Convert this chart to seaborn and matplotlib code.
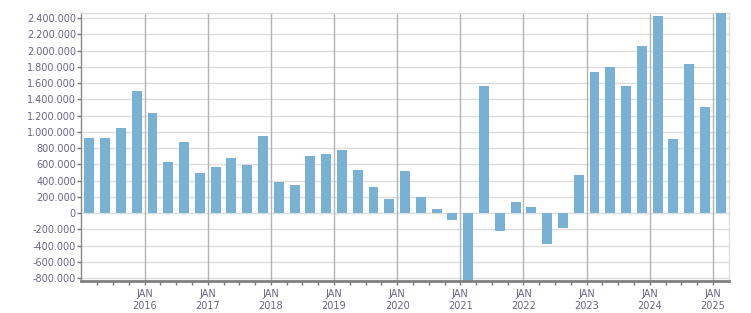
import matplotlib
matplotlib.use("Agg")
import matplotlib.pyplot as plt
import seaborn as sns
import pandas as pd
import numpy as np
from matplotlib.ticker import FuncFormatter, FixedLocator

# Quarterly values, Q1 2015 .. Q1 2025
quarters = [f"{y}Q{q}" for y in range(2015, 2026) for q in range(1, 5)][:41]
values = [927000, 927000, 1050000, 1505000, 1235000, 632000, 878000, 496000,
          570000, 681000, 595000, 952000, 385000, 349000, 705000, 730000,
          779000, 529000, 324000, 176000, 521000, 197000, 49000, -86000,
          -950000, 1563000, -218000, 135000, 74000, -378000, -181000, 468000,
          1735000, 1797000, 1563000, 2055000, 2425000, 911000, 1834000, 1305000,
          2480000]
year_labels = [str(y) for y in range(2016, 2026)]
y_ticks = [-800000, -600000, -400000, -200000, 0, 200000, 400000, 600000, 800000,
           1000000, 1200000, 1400000, 1600000, 1800000, 2000000, 2200000, 2400000]

df = pd.DataFrame({"quarter": quarters, "value": values})
df["pos"] = np.arange(len(df)) + 0.5

sns.set_style("white")
plt.rcParams['font.family'] = ['DejaVu Sans']

fig = plt.figure(figsize=(7.51, 3.13), dpi=100)
ax = fig.add_axes([0.1085, 0.1022, 0.9703 - 0.1085, 0.9585 - 0.1022])

sns.barplot(data=df, x="pos", y="value", native_scale=True, width=0.63,
            color="#78b1d3", saturation=1, ax=ax, linewidth=0)
for p in ax.patches:
    p.set_zorder(3)

ax.set_xlim(0, 41)
ax.set_ylim(-837000, 2462000)

text_color = "#6b6385"
# y axis
ax.yaxis.set_major_locator(FixedLocator(y_ticks))
ax.yaxis.set_major_formatter(FuncFormatter(lambda v, p: f"{v:,.0f}".replace(",", ".")))
ax.tick_params(axis="y", which="major", length=3, width=1, color="#777777",
               labelsize=7, labelcolor=text_color, pad=1, left=True)
# x axis
major_pos = [4 * (i + 1) for i in range(len(year_labels))]
ax.set_xticks(major_pos)
ax.set_xticklabels([f"JAN\n{y}" for y in year_labels])
ax.set_xticks([q for q in range(1, 41) if q % 4 != 0], minor=True)
ax.tick_params(axis="x", which="both", length=3, width=1, color="#777777",
               labelsize=7, labelcolor=text_color, pad=3, bottom=True)
ax.set_xlabel("")
ax.set_ylabel("")

ax.grid(False)
for yt in y_ticks:
    ax.axhline(yt, color="#dddddd", lw=1, zorder=1)
for xp in major_pos:
    ax.axvline(xp, color="#b3b3b3", lw=1, zorder=2)

for s in ["top", "right"]:
    ax.spines[s].set_color("#dddddd")
    ax.spines[s].set_linewidth(1)
ax.spines["left"].set_color("#888888")
ax.spines["left"].set_linewidth(1)
ax.spines["bottom"].set_color("#808080")
ax.spines["bottom"].set_linewidth(2)
ax.spines["bottom"].set_zorder(5)

fig.savefig("out.png", dpi=100)
